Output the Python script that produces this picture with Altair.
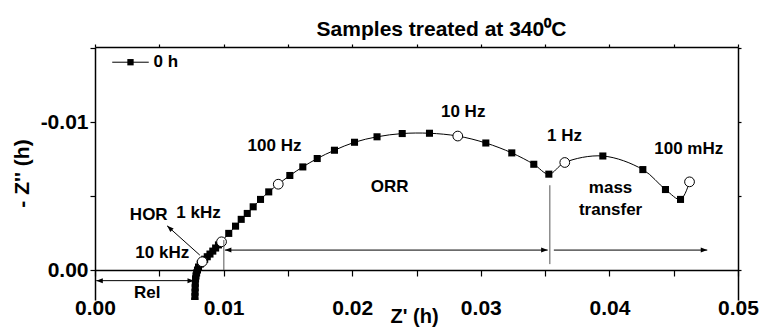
import altair as alt
import pandas as pd

# ---- data ----
zre = [0.00775, 0.00775, 0.00776, 0.00776, 0.00777, 0.00778, 0.00779, 0.0078, 0.00782, 0.00785,
       0.0079, 0.00797, 0.00805, 0.00818, 0.00834, 0.00853, 0.00873, 0.00894, 0.00916, 0.00938,
       0.0096, 0.00984, 0.0104, 0.01093, 0.01137, 0.01184, 0.0123, 0.01287, 0.01351, 0.01425,
       0.01515, 0.01616, 0.01728, 0.01862, 0.02018, 0.02193, 0.02389, 0.02601, 0.02821, 0.03039,
       0.03241, 0.03412, 0.03529, 0.03653, 0.03949, 0.0426, 0.04436, 0.04553, 0.04623]
zim = [0.0030, 0.0027, 0.0024, 0.0021, 0.0018, 0.0015, 0.0012, 0.0009, 0.0006, 0.0004,
       0.0002, 0.0000, -0.0002, -0.0004, -0.00056, -0.00073, -0.0009, -0.00108, -0.00128, -0.00149,
       -0.0017, -0.00191, -0.00248, -0.00297, -0.00343, -0.00383, -0.00428, -0.00478, -0.00529, -0.00581,
       -0.0064, -0.00698, -0.00755, -0.00811, -0.00865, -0.00902, -0.00924, -0.00926, -0.00907, -0.0086,
       -0.00793, -0.00716, -0.00649, -0.00728, -0.00772, -0.0068, -0.00545, -0.00478, -0.00597]
circle_idx = [14, 21, 29, 38, 43, 48]  # 10 kHz, 1 kHz, 100 Hz, 10 Hz, 1 Hz, 100 mHz

x_ticks = [0.0, 0.005, 0.01, 0.015, 0.02, 0.025, 0.03, 0.035, 0.04, 0.045, 0.05]
y_ticks = [-0.015, -0.01, -0.005, 0.0]

# annotation texts
ann_text = ["HOR", "1 kHz", "10 kHz", "Rel", "100 Hz", "ORR", "10 Hz", "1 Hz", "100 mHz", "mass", "transfer"]
ann_x = [0.00418, 0.00805, 0.00523, 0.00406, 0.01396, 0.02292, 0.02863, 0.03651, 0.04617, 0.04009, 0.04009]
ann_y = [-0.00372, -0.00383, -0.00117, 0.00157, -0.00840, -0.00563, -0.01070, -0.00905, -0.00816, -0.00557, -0.00405]

# arrow shafts (black)
arr_x = [0.0101, 0.03568, 0.0001, 0.00815]
arr_x2 = [0.0352, 0.04761, 0.0077, 0.00561]
arr_y = [-0.00135, -0.00135, 0.00072, -0.00101]
arr_y2 = [-0.00135, -0.00135, 0.00072, -0.00299]
# arrow heads
head_x = [0.0101, 0.0352, 0.04761, 0.0001, 0.0077, 0.00561]
head_y = [-0.00135, -0.00135, -0.00135, 0.00072, 0.00072, -0.00299]
head_ang = [180, 0, 0, 180, 0, 222]
# grey separators
sep_x = [0.01002, 0.03537]
sep_y = [-0.00203, -0.00574]
sep_y2 = [0.0, -0.0004]

# legend
leg_x, leg_x2, leg_y = 0.00134, 0.00418, -0.01407
leg_sq_x = 0.00276
leg_txt_x = 0.00455
leg_label = "0 h"

FONT = "Liberation Sans"

df = pd.DataFrame({
    "zre": zre, "zim": zim, "idx": list(range(len(zre))),
    "marker": ["o" if i in circle_idx else "s" for i in range(len(zre))],
})
df_ann = pd.DataFrame({"t": ann_text, "x": ann_x, "y": ann_y})
df_arr = pd.DataFrame({"x": arr_x, "x2": arr_x2, "y": arr_y, "y2": arr_y2})
df_head = pd.DataFrame({"x": head_x, "y": head_y, "a": head_ang})
df_sep = pd.DataFrame({"x": sep_x, "y": sep_y, "y2": sep_y2})
df_leg_line = pd.DataFrame({"x": [leg_x], "x2": [leg_x2], "y": [leg_y]})
df_leg_sq = pd.DataFrame({"x": [leg_sq_x], "y": [leg_y]})
df_leg_txt = pd.DataFrame({"x": [leg_txt_x], "y": [leg_y], "t": [leg_label]})

XS = alt.Scale(domain=[0, 0.05], nice=False, zero=False)
YS = alt.Scale(domain=[-0.0151, 0.00203], reverse=True, nice=False, zero=False)

common = dict(
    domainColor="black", domainWidth=1.5, tickColor="black", tickWidth=1.2, grid=False,
    labelFont=FONT, labelFontWeight="bold", labelColor="black",
    labelFlush=False, labelOverlap=False,
    titleFont=FONT, titleFontWeight="bold", titleColor="black",
)

x_bottom = alt.Axis(
    orient="bottom", offset=-30, values=x_ticks,
    labelExpr="round(datum.value*1000) % 10 == 0 ? format(datum.value, '.2f') : ''",
    tickSize=6, labelPadding=21, labelFontSize=21,
    title="Z' (h)", titleX=319, titleY=46, titleBaseline="middle", titleAlign="center",
    titleFontSize=20, **common,
)
y_left = alt.Axis(
    orient="left", values=y_ticks,
    labelExpr="abs(datum.value + 0.01) < 1e-9 ? '-0.01' : (abs(datum.value) < 1e-9 ? '0.00' : '')",
    tickSize=5, labelPadding=2, labelFontSize=21,
    title="- Z'' (h)", titleX=-73, titleY=126, titleAngle=270,
    titleBaseline="middle", titleAlign="center", titleFontSize=21, **common,
)
x_top = alt.Axis(orient="top", values=x_ticks, labels=False, tickSize=3, title=None, **common)
y_right = alt.Axis(orient="right", values=y_ticks, labels=False, tickSize=3, title=None, **common)

line = alt.Chart(df).mark_line(color="black", strokeWidth=1, interpolate="catmull-rom", clip=True).encode(
    x=alt.X("zre:Q", scale=XS, axis=x_bottom),
    y=alt.Y("zim:Q", scale=YS, axis=y_left),
    order="idx:Q",
)
squares = alt.Chart(df).transform_filter("datum.marker == 's'").mark_point(
    shape="square", filled=True, color="black", size=50, opacity=1, clip=True
).encode(
    x=alt.X("zre:Q", scale=XS, axis=x_top),
    y=alt.Y("zim:Q", scale=YS, axis=y_right),
)
circles = alt.Chart(df).transform_filter("datum.marker == 'o'").mark_point(
    shape="circle", filled=True, fill="white", stroke="black", strokeWidth=1, size=95, opacity=1
).encode(
    x=alt.X("zre:Q", scale=XS, axis=None),
    y=alt.Y("zim:Q", scale=YS, axis=None),
)
arrows = alt.Chart(df_arr).mark_rule(color="black", strokeWidth=1).encode(
    x=alt.X("x:Q", scale=XS, axis=None), x2="x2:Q",
    y=alt.Y("y:Q", scale=YS, axis=None), y2="y2:Q",
)
heads = alt.Chart(df_head).mark_point(
    shape="M -1 -0.38 L 0 0 L -1 0.38 Z", filled=True, color="black", size=170, opacity=1
).encode(
    x=alt.X("x:Q", scale=XS, axis=None),
    y=alt.Y("y:Q", scale=YS, axis=None),
    angle=alt.Angle("a:Q", scale=None),
)
seps = alt.Chart(df_sep).mark_rule(color="#555555", strokeWidth=1).encode(
    x=alt.X("x:Q", scale=XS, axis=None),
    y=alt.Y("y:Q", scale=YS, axis=None), y2="y2:Q",
)
texts = alt.Chart(df_ann).mark_text(
    font=FONT, fontSize=17, fontWeight="bold", color="black", align="center", baseline="middle"
).encode(
    x=alt.X("x:Q", scale=XS, axis=None),
    y=alt.Y("y:Q", scale=YS, axis=None),
    text="t:N",
)
leg_line = alt.Chart(df_leg_line).mark_rule(color="black", strokeWidth=1).encode(
    x=alt.X("x:Q", scale=XS, axis=None), x2="x2:Q",
    y=alt.Y("y:Q", scale=YS, axis=None),
)
leg_sq = alt.Chart(df_leg_sq).mark_point(shape="square", filled=True, color="black", size=40, opacity=1).encode(
    x=alt.X("x:Q", scale=XS, axis=None),
    y=alt.Y("y:Q", scale=YS, axis=None),
)
leg_txt = alt.Chart(df_leg_txt).mark_text(
    font=FONT, fontSize=17, fontWeight="bold", color="black", align="left", baseline="middle"
).encode(
    x=alt.X("x:Q", scale=XS, axis=None),
    y=alt.Y("y:Q", scale=YS, axis=None),
    text="t:N",
)

chart = alt.layer(
    line, squares, circles, seps, arrows, heads, texts, leg_line, leg_sq, leg_txt
).resolve_axis(x="independent", y="independent").properties(
    width=643, height=253,
    background="white",
    autosize=alt.AutoSizeParams(type="none"),
    padding={"left": 95, "top": 47, "right": 22, "bottom": 32},
    title=alt.TitleParams(
        "Samples treated at 340\u2070C", font=FONT, fontSize=21, fontWeight="bold",
        offset=-3, dx=25, anchor="middle", color="black",
    ),
).configure_view(stroke=None)

chart.save("out.html", embed_options={"renderer": "svg", "actions": False})
